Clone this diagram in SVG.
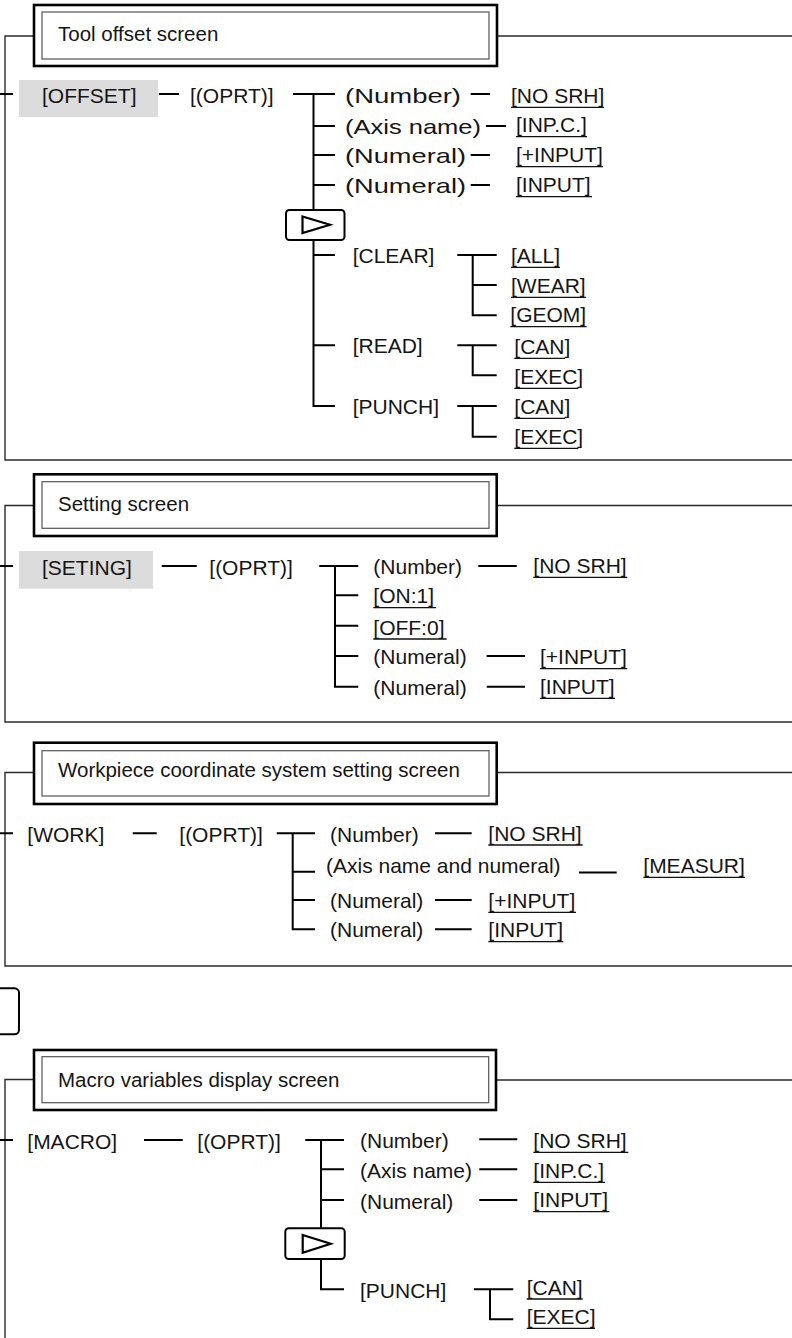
<svg xmlns="http://www.w3.org/2000/svg" width="792" height="1338" viewBox="0 0 792 1338">
<style>
text{font-family:"Liberation Sans",Arial,sans-serif;font-size:21px;fill:#151515}
.ttl{font-size:20.5px}
.fr{stroke:#2a2a2a;stroke-width:1.4;fill:none}
.ln{stroke:#000;stroke-width:2;fill:none}
.ul{stroke:#111;stroke-width:1.3;fill:none}
.ob{fill:#fff;stroke:#000;stroke-width:2.6}
.ib{fill:none;stroke:#555;stroke-width:1.2}
.gray{fill:#dcdcdc}
.key{fill:#fff;stroke:#000;stroke-width:2}
.tri{fill:none;stroke:#000;stroke-width:2.2;stroke-linejoin:miter}
</style>
<rect width="792" height="1338" fill="#fff"/>

<!-- frames -->
<g id="frames">
<path class="fr" d="M34 36H5V460H792M497 36H792"/>
<path class="fr" d="M34 505.5H5V722H792M497 505.5H792"/>
<path class="fr" d="M34 772.5H5V966H792M497 772.5H792"/>
<path class="fr" d="M34 1079.5H5V1338M496 1080H792"/>
</g>

<!-- titles -->
<g id="title-tool-offset">
<rect class="ob" x="34" y="5" width="463" height="61"/>
<rect class="ib" x="42" y="12" width="447" height="47"/>
<text class="ttl" x="58" y="41">Tool offset screen</text>
</g>
<g id="title-setting">
<rect class="ob" x="34" y="474.3" width="462.7" height="61.7"/>
<rect class="ib" x="42" y="481.7" width="447" height="46.6"/>
<text class="ttl" x="58" y="511">Setting screen</text>
</g>
<g id="title-workpiece">
<rect class="ob" x="34" y="742.7" width="462.7" height="61.3"/>
<rect class="ib" x="42" y="750.7" width="447" height="45.3"/>
<text class="ttl" x="58" y="777">Workpiece coordinate system setting screen</text>
</g>
<g id="title-macro">
<rect class="ob" x="34" y="1050" width="462" height="60"/>
<rect class="ib" x="42" y="1056.7" width="446.7" height="46"/>
<text class="ttl" x="58" y="1087">Macro variables display screen</text>
</g>

<!-- connectors -->
<g id="connectors">
<!-- section 1 -->
<path class="ln" d="M0 94H13M159 94H179M293 94H335M313.5 94V210M313.5 240V406H335M313.5 126H335M313.5 155H335M313.5 185H335M313.5 255H335M313.5 345.3H335"/>
<path class="ln" d="M470.7 94H490M486 126H506M470.7 155H490M470.7 185H490"/>
<path class="ln" d="M457.3 255H496.7M472.7 255V315.3H496.7M472.7 285H496.7"/>
<path class="ln" d="M457.3 345.3H496.7M472.7 345.3V375.3H496.7"/>
<path class="ln" d="M457.3 406H496.7M472.7 406V436.7H496.7"/>
<!-- section 2 -->
<path class="ln" d="M0 566H13M161.7 566H196.7M319.3 566H358.3M335 566V686.7H358.3M335 595.3H358.3M335 625.7H358.3M335 656H358.3"/>
<path class="ln" d="M478.3 566H516.7M486.7 656H525M486.7 686.7H525"/>
<!-- section 3 -->
<path class="ln" d="M0 833.3H13M132.7 833.3H156.7M276.7 833.3H315M292.7 833.3V929.3H315M292.7 871.7H315M292.7 900H315"/>
<path class="ln" d="M435 833.3H471.7M579 872.5H616.7M435 900H471.7M435 929.3H471.7"/>
<!-- section 4 -->
<path class="ln" d="M0 1140H13M144 1140H182.7M305.3 1140H344M321 1140V1228.3M321 1259V1289.3H344M321 1169.3H344M321 1200H344"/>
<path class="ln" d="M479.3 1139.3H517.3M479.3 1169.3H517.3M479.3 1200H517.3"/>
<path class="ln" d="M474 1289.3H513.3M490 1289.3V1319.3H513.3"/>
</g>

<!-- section 1 nodes -->
<g id="offset">
<rect class="gray" x="19" y="80" width="139" height="37"/>
<text x="42" y="103">[OFFSET]</text>
</g>
<g id="offset-oprt"><text x="190" y="103">[(OPRT)]</text></g>
<g id="offset-number"><text x="345" y="103" textLength="116" lengthAdjust="spacingAndGlyphs">(Number)</text></g>
<g id="offset-nosrh"><text x="511" y="102.5">[NO SRH]</text><path class="ul" d="M511 107.3H604"/></g>
<g id="offset-axis"><text x="345" y="134" textLength="136" lengthAdjust="spacingAndGlyphs">(Axis name)</text></g>
<g id="offset-inpc"><text x="516" y="132">[INP.C.]</text><path class="ul" d="M516 136.7H587"/></g>
<g id="offset-numeral1"><text x="345" y="163" textLength="121" lengthAdjust="spacingAndGlyphs">(Numeral)</text></g>
<g id="offset-plusinput"><text x="516" y="162">[+INPUT]</text><path class="ul" d="M516 166.7H603"/></g>
<g id="offset-numeral2"><text x="345" y="193" textLength="121" lengthAdjust="spacingAndGlyphs">(Numeral)</text></g>
<g id="offset-input"><text x="516" y="192">[INPUT]</text><path class="ul" d="M516 196.7H592"/></g>
<g id="offset-next">
<rect class="key" x="286" y="210" width="58.5" height="30" rx="3.5"/>
<polygon class="tri" points="302.5,216.5 330,224.8 302.5,233"/>
</g>
<g id="offset-clear"><text x="352.7" y="263">[CLEAR]</text></g>
<g id="clear-all"><text x="511" y="262.8">[ALL]</text><path class="ul" d="M511 267.3H560"/></g>
<g id="clear-wear"><text x="511" y="292.8">[WEAR]</text><path class="ul" d="M511 297.3H586"/></g>
<g id="clear-geom"><text x="510.3" y="322.2">[GEOM]</text><path class="ul" d="M510.3 326.7H586.7"/></g>
<g id="offset-read"><text x="352.7" y="353.3">[READ]</text></g>
<g id="read-can"><text x="514.3" y="353.8">[CAN]</text><path class="ul" d="M514.3 358.3H565"/></g>
<g id="read-exec"><text x="514.3" y="383.8">[EXEC]</text><path class="ul" d="M514.3 388.3H578.3"/></g>
<g id="offset-punch"><text x="352.7" y="414">[PUNCH]</text></g>
<g id="punch-can"><text x="514.3" y="413.8">[CAN]</text><path class="ul" d="M514.3 418.3H565"/></g>
<g id="punch-exec"><text x="514.3" y="443.8">[EXEC]</text><path class="ul" d="M514.3 448.3H578.3"/></g>

<!-- section 2 nodes -->
<g id="seting">
<rect class="gray" x="19" y="551" width="134" height="37.7"/>
<text x="42" y="575">[SETING]</text>
</g>
<g id="seting-oprt"><text x="209.3" y="575">[(OPRT)]</text></g>
<g id="seting-number"><text x="373.3" y="574">(Number)</text></g>
<g id="seting-nosrh"><text x="533.3" y="573">[NO SRH]</text><path class="ul" d="M533.3 577.3H627.3"/></g>
<g id="seting-on"><text x="373.3" y="603.2">[ON:1]</text><path class="ul" d="M373.3 607.7H436"/></g>
<g id="seting-off"><text x="373.3" y="634.5">[OFF:0]</text><path class="ul" d="M373.3 639H446.7"/></g>
<g id="seting-numeral1"><text x="373.3" y="664">(Numeral)</text></g>
<g id="seting-plusinput"><text x="540" y="664.2">[+INPUT]</text><path class="ul" d="M540 668.7H627.3"/></g>
<g id="seting-numeral2"><text x="373.3" y="694.7">(Numeral)</text></g>
<g id="seting-input"><text x="540" y="693.8">[INPUT]</text><path class="ul" d="M540 698.3H615"/></g>

<!-- section 3 nodes -->
<g id="work"><text x="27.3" y="841.5">[WORK]</text></g>
<g id="work-oprt"><text x="179.3" y="841.5">[(OPRT)]</text></g>
<g id="work-number"><text x="330" y="841.5">(Number)</text></g>
<g id="work-nosrh"><text x="488.3" y="840.5">[NO SRH]</text><path class="ul" d="M488.3 845H582.7"/></g>
<g id="work-axis"><text x="326" y="873">(Axis name and numeral)</text></g>
<g id="work-measur"><text x="643.3" y="872.8">[MEASUR]</text><path class="ul" d="M643.3 877.3H745"/></g>
<g id="work-numeral1"><text x="330" y="908">(Numeral)</text></g>
<g id="work-plusinput"><text x="488.3" y="907.8">[+INPUT]</text><path class="ul" d="M488.3 912.3H576"/></g>
<g id="work-numeral2"><text x="330" y="937.3">(Numeral)</text></g>
<g id="work-input"><text x="488.3" y="937.2">[INPUT]</text><path class="ul" d="M488.3 941.7H563.3"/></g>

<!-- partial key -->
<g id="side-key"><rect class="key" x="-40" y="988.3" width="59" height="46" rx="4.5"/></g>

<!-- section 4 nodes -->
<g id="macro"><text x="27.3" y="1148.5">[MACRO]</text></g>
<g id="macro-oprt"><text x="197.3" y="1148.5">[(OPRT)]</text></g>
<g id="macro-number"><text x="360" y="1148">(Number)</text></g>
<g id="macro-nosrh"><text x="533.3" y="1147.8">[NO SRH]</text><path class="ul" d="M533.3 1152.3H628.3"/></g>
<g id="macro-axis"><text x="360" y="1178">(Axis name)</text></g>
<g id="macro-inpc"><text x="533.3" y="1177.8">[INP.C.]</text><path class="ul" d="M533.3 1182.3H605"/></g>
<g id="macro-numeral"><text x="360" y="1208.5">(Numeral)</text></g>
<g id="macro-input"><text x="533.3" y="1207.2">[INPUT]</text><path class="ul" d="M533.3 1211.7H609.3"/></g>
<g id="macro-next">
<rect class="key" x="285.3" y="1228.3" width="59.4" height="30.7" rx="3.5"/>
<polygon class="tri" points="302.7,1235 330.7,1243.8 302.7,1252.7"/>
</g>
<g id="macro-punch"><text x="360" y="1297.5">[PUNCH]</text></g>
<g id="macro-can"><text x="526.7" y="1294.5">[CAN]</text><path class="ul" d="M526.7 1299H582.7"/></g>
<g id="macro-exec"><text x="526.7" y="1323.8">[EXEC]</text><path class="ul" d="M526.7 1328.3H595"/></g>
</svg>
